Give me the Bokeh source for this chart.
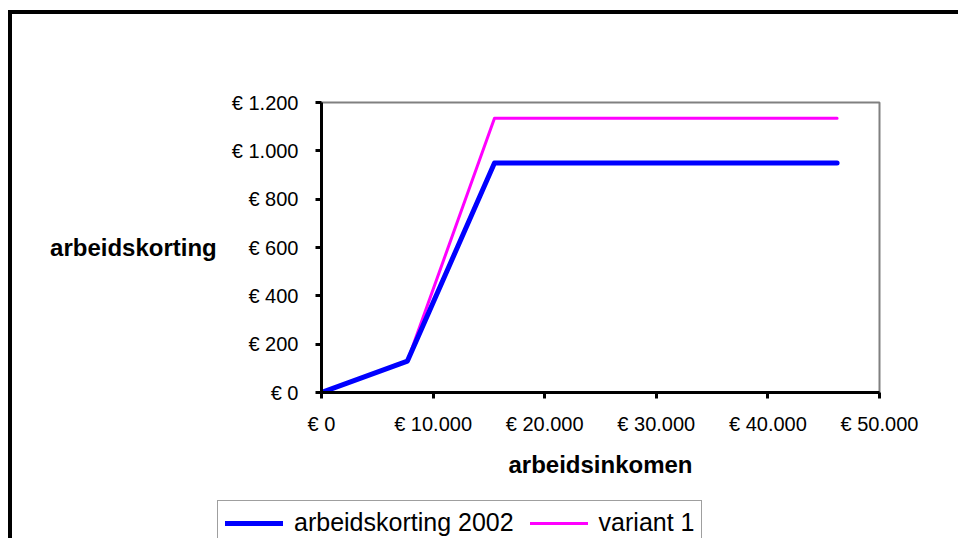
from bokeh.plotting import figure
from bokeh.models import Range1d, FixedTicker, Legend, LegendItem
from bokeh.layouts import column
from bokeh.embed import file_html
from bokeh.resources import INLINE

# data
income = [0, 7700, 15500, 46200]
korting_2002 = [0, 130, 950, 950]
variant_1 = [0, 130, 1135, 1135]

x_ticks = [0, 10000, 20000, 30000, 40000, 50000]
x_tick_labels = ["€ 0", "€ 10.000", "€ 20.000", "€ 30.000", "€ 40.000", "€ 50.000"]
y_ticks = [0, 200, 400, 600, 800, 1000, 1200]
y_tick_labels = ["€ 0", "€ 200", "€ 400", "€ 600", "€ 800", "€ 1.000", "€ 1.200"]
series_names = ["arbeidskorting 2002", "variant 1"]

FONT = "Liberation Sans"
BLUE = "#0000FF"
MAGENTA = "#FF00FF"

p = figure(width=946, height=486, output_backend="svg", toolbar_location=None,
           x_range=Range1d(0, 50000), y_range=Range1d(0, 1200),
           min_border_left=309, min_border_right=79, min_border_top=88, min_border_bottom=108)
p.background_fill_color = "white"
p.border_fill_color = "white"
p.outline_line_color = "#808080"
p.outline_line_width = 2
p.xgrid.visible = False
p.ygrid.visible = False

l2 = p.line(income, variant_1, line_color=MAGENTA, line_width=3, line_cap="round", line_join="round")
l1 = p.line(income, korting_2002, line_color=BLUE, line_width=5, line_cap="round", line_join="round")

for ax in (p.xaxis[0], p.yaxis[0]):
    ax.axis_line_color = "black"
    ax.axis_line_width = 3
    ax.major_tick_line_color = "black"
    ax.major_tick_line_width = 3
    ax.major_tick_out = 6
    ax.major_tick_in = 0
    ax.minor_tick_line_color = None
    ax.major_label_text_font = FONT
    ax.major_label_text_font_size = "20px"
    ax.major_label_text_color = "black"
    ax.axis_label_text_font = FONT
    ax.axis_label_text_font_size = "24px"
    ax.axis_label_text_font_style = "bold"
    ax.axis_label_text_color = "black"

p.xaxis.ticker = FixedTicker(ticks=x_ticks)
p.xaxis.major_label_overrides = {t: s for t, s in zip(x_ticks, x_tick_labels)}
p.yaxis.ticker = FixedTicker(ticks=y_ticks)
p.yaxis.major_label_overrides = {t: s for t, s in zip(y_ticks, y_tick_labels)}

p.xaxis.axis_label = "arbeidsinkomen"
p.xaxis.major_label_standoff = 14
p.xaxis.axis_label_standoff = 13
p.yaxis.axis_label = "arbeidskorting"
p.yaxis.major_label_standoff = 17
p.yaxis.axis_label_standoff = 12
p.yaxis.axis_label_orientation = "horizontal"

# legend strip below the chart (own small figure, separate root, so it is neither clipped nor aligned)
q = figure(width=946, height=38, output_backend="svg", toolbar_location=None,
           x_range=Range1d(-2, -1), y_range=Range1d(-2, -1),
           x_axis_location=None, y_axis_location=None,
           min_border_left=0, min_border_right=0, min_border_top=0, min_border_bottom=0)
q.outline_line_color = None
q.xgrid.visible = False
q.ygrid.visible = False
q.background_fill_color = "white"
q.border_fill_color = "white"
k1 = q.line(income, korting_2002, line_color=BLUE, line_width=5, line_cap="round")
k2 = q.line(income, variant_1, line_color=MAGENTA, line_width=3, line_cap="round")

legend = Legend(items=[LegendItem(label=series_names[0], renderers=[k1]),
                       LegendItem(label=series_names[1], renderers=[k2])],
                orientation="horizontal", location=(205, -7))
legend.label_text_font = FONT
legend.label_text_font_size = "25px"
legend.label_text_color = "black"
legend.glyph_width = 58
legend.glyph_height = 24
legend.label_height = 24
legend.label_standoff = 11
legend.spacing = 16
legend.padding = 7
legend.margin = 0
legend.border_line_color = "#404040"
legend.border_line_width = 1
legend.background_fill_color = "white"
legend.background_fill_alpha = 1
q.add_layout(legend)

top = column(p, styles={"margin-left": "8px", "margin-top": "10px",
                        "border-left": "4px solid black", "border-top": "4px solid black"})
bottom = column(q, styles={"margin-left": "8px", "border-left": "4px solid black"})

open("out.html", "w").write(file_html([top, bottom], INLINE))
